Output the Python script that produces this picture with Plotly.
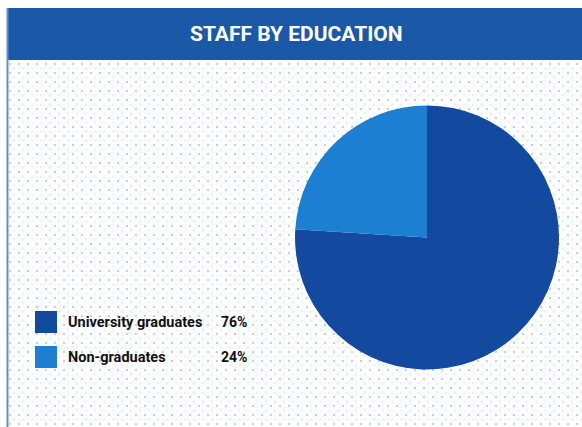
import plotly.graph_objects as go

categories = ["University graduates", "Non-graduates"]
values = [76, 24]
pct_labels = ["76%", "24%"]
colors = ["#1449a0", "#1c7fd2"]
title_text = "STAFF BY EDUCATION"

W, H = 582, 427
def px(x): return x / W
def py(y): return 1 - y / H

fig = go.Figure()
fig.add_trace(go.Pie(
    labels=categories, values=values, sort=False, direction="clockwise",
    rotation=0, textinfo="none", hoverinfo="label+percent",
    marker=dict(colors=colors, line=dict(width=0)),
    domain=dict(x=[px(295), px(559)], y=[py(370), py(105)]),
    showlegend=False,
))

shapes = []
# dotted background
for i in range(64, 425, 9):
    shapes.append(dict(type="line", xref="paper", yref="paper", x0=px(9), x1=1, y0=py(i), y1=py(i),
                       line=dict(color="#cfcfcf", width=2, dash="2px,7px"), layer="below"))
    shapes.append(dict(type="line", xref="paper", yref="paper", x0=px(13), x1=1, y0=py(i + 4.5), y1=py(i + 4.5),
                       line=dict(color="#d4f7fb", width=2, dash="2px,7px"), layer="below"))
# header band
shapes.append(dict(type="rect", xref="paper", yref="paper", x0=px(7), x1=1, y0=py(60), y1=py(8),
                   fillcolor="#1b59a8", line=dict(width=0)))
# left border
shapes.append(dict(type="line", xref="paper", yref="paper", x0=px(7.5), x1=px(7.5), y0=py(8), y1=py(427),
                   line=dict(color="#5b8fd4", width=2)))

annotations = [dict(text="<b>" + title_text + "</b>", x=px(296), y=py(34), xref="paper", yref="paper",
                    showarrow=False, font=dict(family="Liberation Sans Narrow, Roboto, Arial", size=21, color="white"),
                    xanchor="center", yanchor="middle")]

leg_y = [322, 357]
for i, (cat, pl, col) in enumerate(zip(categories, pct_labels, colors)):
    yc = leg_y[i]
    shapes.append(dict(type="rect", xref="paper", yref="paper", x0=px(35), x1=px(57),
                       y0=py(yc + 11), y1=py(yc - 11), fillcolor=col, line=dict(width=0)))
    annotations.append(dict(text="<b>" + cat + "</b>", x=px(66), y=py(yc), xref="paper", yref="paper",
                            showarrow=False, xanchor="left", yanchor="middle",
                            font=dict(family="Liberation Sans Narrow, Roboto, Arial", size=14.5, color="#111111")))
    annotations.append(dict(text="<b>" + pl + "</b>", x=px(219), y=py(yc), xref="paper", yref="paper",
                            showarrow=False, xanchor="left", yanchor="middle",
                            font=dict(family="Liberation Sans Narrow, Roboto, Arial", size=14, color="#111111")))

fig.update_layout(width=W, height=H, margin=dict(l=0, r=0, t=0, b=0),
                  paper_bgcolor="white", plot_bgcolor="white",
                  shapes=shapes, annotations=annotations, showlegend=False)
fig.write_html("out.html")
